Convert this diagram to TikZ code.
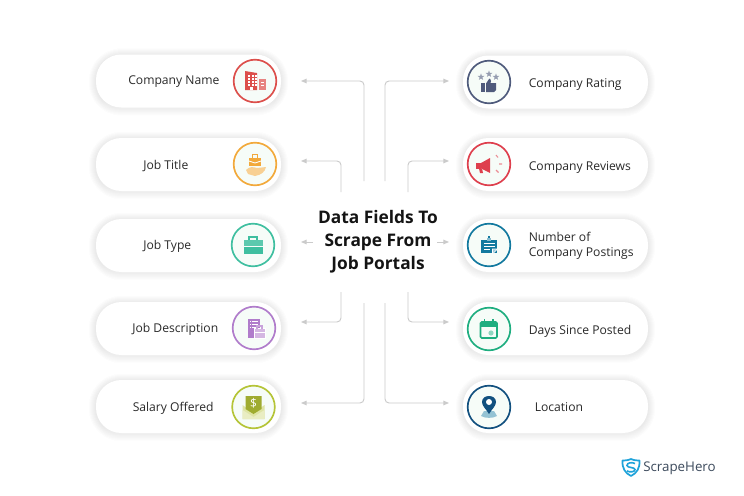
\documentclass[tikz,border=0pt]{standalone}
\usepackage{fontspec}
\setmainfont{Open Sans}
\newfontfamily\titlefont{Open Sans}
\newfontfamily\logofont{Open Sans}
\usetikzlibrary{arrows.meta}
\definecolor{txt}{HTML}{2A2A2A}
\definecolor{conn}{HTML}{CBCBCB}
\definecolor{tint}{HTML}{F6FCF8}
\definecolor{cred}{HTML}{DC4F4B}
\definecolor{corg}{HTML}{F2A93B}
\definecolor{cteal}{HTML}{3FBFA0}
\definecolor{cpur}{HTML}{B07CCB}
\definecolor{cgrn}{HTML}{B5C437}
\definecolor{cslate}{HTML}{4F5B7C}
\definecolor{crev}{HTML}{DE3F4D}
\definecolor{cblue}{HTML}{12799F}
\definecolor{cgreen}{HTML}{1FAE80}
\definecolor{cnavy}{HTML}{12507F}
\definecolor{clogo}{HTML}{1FA3DA}
\definecolor{ltxt}{HTML}{3C4A5C}
\definecolor{shade}{HTML}{55606A}
\tikzset{
  x=0.75pt,y=-0.75pt,
  pillbox/.style={draw=none,fill=white,rounded corners=19pt,minimum width=138.75pt,minimum height=39.75pt,inner sep=0pt},
  iconring/.style={circle,fill=tint,line width=1.25pt,minimum size=32pt,inner sep=0pt},
  label/.style={font=\fontsize{9.1pt}{11.25pt}\selectfont,text=txt,anchor=west,inner sep=0pt,align=left,yshift=-1.2pt},
  conline/.style={draw=conn,line width=0.7pt,rounded corners=3pt,-{Triangle[length=4.2pt,width=3.4pt,fill=conn]}},
}
\newcommand{\softshadow}[2]{%
  \foreach \g in {7,6,5,4,3,2,1}{%
    \fill[shade,opacity=0.007,rounded corners=19pt+\g*0.75pt]
      ({#1-92.5-\g},{#2-26.5-\g+1}) rectangle ({#1+92.5+\g},{#2+26.5+\g+1});
  }}
\begin{document}
\begin{tikzpicture}
\useasboundingbox[fill=white] (0,0) rectangle (744,496);
% pills
\softshadow{188.5}{81}\softshadow{188.5}{164.5}\softshadow{188.5}{245.5}\softshadow{188.5}{328.5}\softshadow{188.5}{406.5}
\softshadow{555.5}{82}\softshadow{555.5}{164.5}\softshadow{555.5}{245.5}\softshadow{555.5}{328.5}\softshadow{555.5}{406.5}
\node[pillbox] (p1) at (188.5,81) {};
\node[pillbox] (p2) at (188.5,164.5) {};
\node[pillbox] (p3) at (188.5,245.5) {};
\node[pillbox] (p4) at (188.5,328.5) {};
\node[pillbox] (p5) at (188.5,406.5) {};
\node[pillbox] (q1) at (555.5,82) {};
\node[pillbox] (q2) at (555.5,164.5) {};
\node[pillbox] (q3) at (555.5,245.5) {};
\node[pillbox] (q4) at (555.5,328.5) {};
\node[pillbox] (q5) at (555.5,406.5) {};
% rings
\node[iconring,draw=cred] (i1) at (255,81) {};
\node[iconring,draw=corg] (i2) at (255,164) {};
\node[iconring,draw=cteal] (i3) at (253,245) {};
\node[iconring,draw=cpur] (i4) at (254,328) {};
\node[iconring,draw=cgrn] (i5) at (253.5,407) {};
\node[iconring,draw=cslate] (j1) at (489,82) {};
\node[iconring,draw=crev] (j2) at (489,164) {};
\node[iconring,draw=cblue] (j3) at (489,245) {};
\node[iconring,draw=cgreen] (j4) at (489,329) {};
\node[iconring,draw=cnavy] (j5) at (489,407) {};
% labels
\node[label] (t1) at (128,80) {Company Name};
\node[label] (t2) at (143,164) {Job Title};
\node[label] (t3) at (143,245) {Job Type};
\node[label] (t4) at (132,328) {Job Description};
\node[label] (t5) at (132.5,407) {Salary Offered};
\node[label] (u1) at (528.5,82.5) {Company Rating};
\node[label] (u2) at (528.5,166) {Company Reviews};
\node[label] (u3) at (528.5,244.5) {Number of\\Company Postings};
\node[label] (u4) at (528.5,330) {Days Since Posted};
\node[label] (u5) at (534.5,406) {Location};
% title
\node[font=\titlefont\bfseries\fontsize{13pt}{17.2pt}\selectfont,text=black!92,align=center,inner sep=0pt] (title) at (378,241.5) {Data Fields To\\Scrape From\\Job Portals};
% connector ends
\coordinate (s1) at (364,181); \coordinate (s2) at (341,192); \coordinate (s3) at (313,242);
\coordinate (s4) at (341,292); \coordinate (s5) at (364,303);
\coordinate (r1) at (385,181); \coordinate (r2) at (408,192); \coordinate (r3) at (437,242);
\coordinate (r4) at (408,292); \coordinate (r5) at (385,303);
\coordinate (e1) at (301,81); \coordinate (e2) at (301,161); \coordinate (e3) at (301,242);
\coordinate (e4) at (301,322); \coordinate (e5) at (301,403);
\coordinate (f1) at (449,81); \coordinate (f2) at (449,161); \coordinate (f3) at (449,242);
\coordinate (f4) at (449,322); \coordinate (f5) at (449,403);
\draw[conline] (s1) |- (e1);
\draw[conline] (s2) |- (e2);
\draw[conline] (s3) -- (e3);
\draw[conline] (s4) |- (e4);
\draw[conline] (s5) |- (e5);
\draw[conline] (r1) |- (f1);
\draw[conline] (r2) |- (f2);
\draw[conline] (r3) -- (f3);
\draw[conline] (r4) |- (f4);
\draw[conline] (r5) |- (f5);
% icon: company
\begin{scope}[shift={(i1.center)}]
\fill[cred] (-10,-10) -- (2,-8) -- (2,9) -- (-10,9) -- cycle;
\fill[cred!70] (4,-2) rectangle (11,9);
\foreach \a in {-7,-3.5,-0.5}\foreach \b in {-6,-3,0,3}\fill[white] (\a,\b) rectangle +(2,1.6);
\fill[white] (-5.5,5.5) rectangle (-2,9);
\foreach \b in {1,4}\fill[white] (6,\b) rectangle +(3,1.2);
\end{scope}
% icon: job title
\begin{scope}[shift={(i2.center)}]
\fill[corg] (-6,-6) rectangle (6,2);
\draw[corg,line width=0.9pt] (-2.5,-6) -- (-2.5,-9.5) -- (2.5,-9.5) -- (2.5,-6);
\draw[white,line width=0.6pt] (-6,-3) -- (0,-1) -- (6,-3);
\fill[corg!55] (-9,6) .. controls (-5,2) and (-2,3) .. (2,4) -- (11,3) .. controls (10,8) and (6,11) .. (0,12) -- (-7,10) -- cycle;
\end{scope}
% icon: job type
\begin{scope}[shift={(i3.center)}]
\draw[cteal,line width=1.1pt] (-4,-4) -- (-4,-8) -- (4,-8) -- (4,-4);
\fill[cteal!85] (-9.5,-5) rectangle (10,1);
\fill[cteal] (-9.5,1.6) rectangle (10,9);
\end{scope}
% icon: job description
\begin{scope}[shift={(i4.center)}]
\fill[cpur] (-6.5,-9.5) rectangle (6,9.5);
\foreach \b in {-7,-4,-1}{\fill[white] (-4.5,\b) rectangle +(1.5,1);\fill[white] (-2,\b) rectangle +(6,1);}
\fill[cpur!55,draw=white,line width=0.5pt] (0,0.5) rectangle (11,10);
\draw[cpur!70,line width=0.8pt] (3,0.5) -- (3,-2) -- (8,-2) -- (8,0.5);
\draw[white,line width=0.5pt] (0,4) -- (11,4);
\end{scope}
% icon: salary
\begin{scope}[shift={(i5.center)}]
\fill[cgrn!45] (-11,-2) -- (0,6) -- (11,-2) -- (11,12) -- (-11,12) -- cycle;
\fill[black!12!cgrn] (-8,-11) -- (8,-11) -- (8,2) -- (0,7) -- (-8,2) -- cycle;
\fill[cgrn!30] (-11,3) -- (0,10) -- (11,3) -- (11,12) -- (-11,12) -- cycle;
\node[text=white,font=\fontsize{9pt}{9pt}\selectfont,inner sep=0pt] (dollar) at (0,-4) {\$};
\end{scope}
% icon: rating
\begin{scope}[shift={(j1.center)}]
\foreach \p/\q in {-8/-5,0/-8,7/-5}{
  \fill[cslate!60] plot[variable=\k,samples at={0,1,...,9}] ({\p+(3.6-2.2*mod(\k,2))*sin(36*\k)},{\q-(3.6-2.2*mod(\k,2))*cos(36*\k)}) -- cycle;
}
\fill[cslate] (-8,1) rectangle (-4,10);
\fill[cslate] (-3,1.5) -- (0,-3) -- (1,-3.5) -- (2,-1) -- (1.5,1) -- (7,1) -- (7,8) -- (5,10) -- (-3,10) -- cycle;
\end{scope}
% icon: reviews
\begin{scope}[shift={(j2.center)}]
\fill[crev] (-13,-1) rectangle (-8,4.5);
\fill[crev] (-8,-1) -- (1,-6) -- (1,9) -- (-8,4.5) -- cycle;
\fill[crev] (-10,4.5) -- (-7,4.5) -- (-6,9) -- (-9,9) -- cycle;
\draw[crev!60,line width=0.8pt] (7,-9) -- (9,-6.5) (10,0) -- (13,0) (7,6) -- (9.5,8.5);
\end{scope}
% icon: postings
\begin{scope}[shift={(j3.center)}]
\fill[cblue] (-8,-5) rectangle (8,8);
\draw[cblue,line width=0.8pt] (0,-5) -- (0,-9);
\fill[cblue!50] (-2,-7) rectangle (2,-4);
\foreach \b/\w in {-2/11,1/11,4/6}\fill[white] (-5.5,\b) rectangle +(\w,1.1);
\fill[cblue!40,draw=white,line width=0.4pt] (3.5,4) -- (8.5,4) -- (3.5,9) -- cycle;
\end{scope}
% icon: calendar
\begin{scope}[shift={(j4.center)}]
\draw[cgreen,line width=1.2pt,rounded corners=1pt,fill=tint] (-8.5,-7) rectangle (8,9);
\fill[cgreen] (-8.5,-7) rectangle (8,-2);
\draw[cgreen,line width=1.2pt] (-4.5,-10) -- (-4.5,-6) (4,-10) -- (4,-6);
\fill[cgreen!50] (2,4) circle[radius=2.6];
\end{scope}
% icon: location
\begin{scope}[shift={(j5.center)}]
\fill[cblue!45] (-8,9) -- (-5,4) -- (5,4) -- (8,9) .. controls (4,11.5) and (-4,11.5) .. (-8,9) -- cycle;
\fill[cnavy] (0,7) .. controls (-3,2) and (-7,-1) .. (-7,-5) .. controls (-7,-13) and (7,-13) .. (7,-5) .. controls (7,-1) and (3,2) .. (0,7) -- cycle;
\fill[white] (0,-5) circle[radius=3];
\end{scope}
% logo
\coordinate (lg) at (631,459);
\begin{scope}[shift={(lg)}]
\draw[clogo,line width=1.3pt,line join=round] (-8.5,1.5) .. controls (-3,1.5) and (-1,0.5) .. (0,0) .. controls (1,0.5) and (3,1.5) .. (8.5,1.5) .. controls (9,9) and (6,14) .. (0,17) .. controls (-6,14) and (-9,9) .. (-8.5,1.5) -- cycle;
\draw[clogo,line width=1.2pt] (4,4.5) .. controls (1,3) and (-4,3.5) .. (-4,6.5) .. controls (-4,9) and (4,8) .. (4,10.5) .. controls (4,13) and (-1,13.5) .. (-4,12);
\end{scope}
\node[font=\logofont\fontsize{10pt}{11pt}\selectfont,text=ltxt,anchor=west,inner sep=0pt] (logo) at (643,468) {ScrapeHero};
\end{tikzpicture}
\end{document}
